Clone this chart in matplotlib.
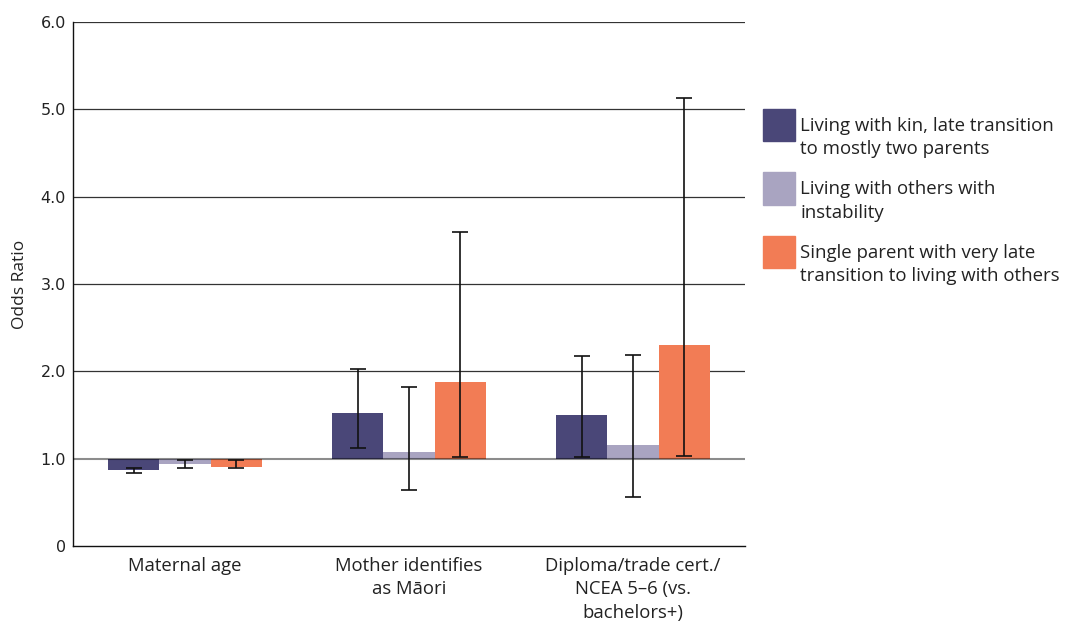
import matplotlib
matplotlib.use("Agg")
import matplotlib.pyplot as plt
import numpy as np
from matplotlib.patches import Rectangle

# 数据
categories = ["Maternal age", "Mother identifies\nas Māori",
              "Diploma/trade cert./\nNCEA 5–6 (vs.\nbachelors+)"]
series = ["Living with kin, late transition\nto mostly two parents",
          "Living with others with\ninstability",
          "Single parent with very late\ntransition to living with others"]
colors = ["#4A4778", "#A9A4C1", "#F27C55"]

odds = [[0.87, 1.52, 1.50],
        [0.94, 1.08, 1.16],
        [0.91, 1.88, 2.30]]
ci_low = [[0.84, 1.12, 1.02],
          [0.89, 0.64, 0.56],
          [0.89, 1.02, 1.03]]
ci_high = [[0.89, 2.03, 2.17],
           [0.98, 1.82, 2.19],
           [0.99, 3.60, 5.13]]

yticks = [0, 1, 2, 3, 4, 5, 6]
ytick_labels = ["0", "1.0", "2.0", "3.0", "4.0", "5.0", "6.0"]

plt.rcParams["font.family"] = ["Open Sans", "DejaVu Sans"]

fig = plt.figure(figsize=(10.67, 6.22), dpi=100)
ax = fig.add_axes([73 / 1067, 1 - 546 / 622, 672 / 1067, 524 / 622])

x = np.arange(len(categories))
w = 0.228
for i in range(len(series)):
    xs = x + (i - 1) * w
    vals = np.array(odds[i])
    ax.bar(xs, vals - 1, bottom=1, width=w, color=colors[i], zorder=2)
    lo = vals - np.array(ci_low[i])
    hi = np.array(ci_high[i]) - vals
    ax.errorbar(xs, vals, yerr=[lo, hi], fmt="none", ecolor="#111111",
                elinewidth=1.2, capsize=6, capthick=1.2, zorder=4)

for y in yticks[2:]:
    ax.axhline(y, color="#333333", lw=0.9, zorder=1)
ax.axhline(1, color="black", alpha=0.45, lw=1.5, zorder=3)

ax.set_xlim(-0.5, 2.5)
ax.set_ylim(0, 6)
ax.set_yticks(yticks)
ax.set_yticklabels(ytick_labels, fontsize=11.5, color="#222222", family="DejaVu Sans")
ax.set_xticks(x)
ax.set_xticklabels(categories, fontsize=13.3, color="#222222", linespacing=1.38)
ax.tick_params(axis="y", length=0, pad=5)
ax.tick_params(axis="x", length=0, pad=8)
for s in ["top", "right"]:
    ax.spines[s].set_visible(False)
for s in ["left", "bottom"]:
    ax.spines[s].set_color("#111111")
    ax.spines[s].set_linewidth(1.0)
ax.set_ylabel("Odds Ratio", fontsize=12.5, color="#222222", labelpad=9)

# 图例 (手动放置)
for i, (name, c) in enumerate(zip(series, colors)):
    top = 109 + i * 63.5
    fig.add_artist(Rectangle((763 / 1067, 1 - (top + 32) / 622), 32 / 1067, 32 / 622,
                             transform=fig.transFigure, color=c))
    fig.text(800 / 1067, 1 - (top + 8) / 622, name, fontsize=13.4, color="#222222",
             va="top", ha="left", linespacing=1.38)

fig.savefig("out.png", dpi=100)
